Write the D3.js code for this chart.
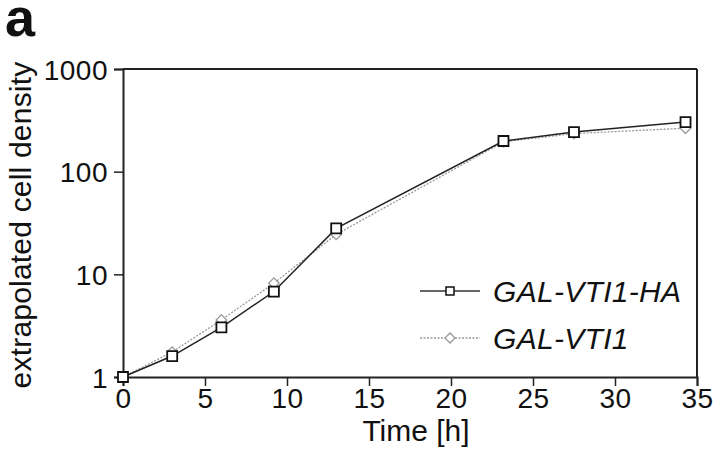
<!DOCTYPE html>
<html><head><meta charset="utf-8">
<script src="https://cdn.jsdelivr.net/npm/d3@7"></script>
<style>
html,body{margin:0;padding:0;background:#fff;}
text{font-family:"Liberation Sans",Arial,Helvetica,sans-serif;}
</style></head>
<body><svg id="c" width="720" height="454"></svg>
<script>
const times = [0, 3, 6, 9.2, 13, 23.2, 27.5, 34.3];
const haValues = [1, 1.6, 3.05, 6.8, 28, 199, 243, 304];
const vti1Values = [1, 1.75, 3.6, 8.2, 24.5, 195, 235, 265];
const seriesNames = ["GAL-VTI1-HA", "GAL-VTI1"];
const xTicks = [0, 5, 10, 15, 20, 25, 30, 35];
const yTicks = [1, 10, 100, 1000];

(function () {
const svg = d3.select("#c");
const mL = 123, mR = 697, mT = 69, mB = 377;
const x = d3.scaleLinear().domain([0, 35]).range([mL, mR]);
const y = d3.scaleLog().domain([1, 1000]).range([mB, mT]);

// frame: top and right borders
svg.append("line").attr("x1", mL).attr("x2", mR).attr("y1", mT).attr("y2", mT)
  .attr("stroke", "#222").attr("stroke-width", 2);
svg.append("line").attr("x1", mR).attr("x2", mR).attr("y1", mT).attr("y2", mB)
  .attr("stroke", "#222").attr("stroke-width", 2);

const xAxis = svg.append("g").attr("transform", `translate(0,${mB})`)
  .call(d3.axisBottom(x).tickValues(xTicks).tickSize(9).tickPadding(2).tickFormat(d3.format("d")));
const yAxis = svg.append("g").attr("transform", `translate(${mL},0)`)
  .call(d3.axisLeft(y).tickValues(yTicks).tickSize(9).tickPadding(6).tickFormat(d3.format("d")));
[xAxis, yAxis].forEach(g => {
  g.select(".domain").attr("stroke", "#222").attr("stroke-width", 2);
  g.selectAll(".tick line").attr("stroke", "#222").attr("stroke-width", 1.5);
  g.selectAll(".tick text").attr("fill", "#111").style("font-size", "28px")
    .style("letter-spacing", "0.5px")
    .style("font-family", '"Liberation Sans", Arial, sans-serif');
});
xAxis.selectAll(".tick text").attr("dy", "0.71em");
yAxis.selectAll(".tick text").attr("dy", "0.36em");

// axis titles
svg.append("text").attr("x", 416).attr("y", 441).attr("text-anchor", "middle")
  .style("font-size", "30px").attr("fill", "#111").text("Time [h]");
svg.append("text").attr("transform", "translate(31,225) rotate(-90)")
  .attr("text-anchor", "middle").style("font-size", "30px").style("letter-spacing", "0.2px")
  .attr("fill", "#111").text("extrapolated cell density");

// panel letter
svg.append("text").attr("x", 5).attr("y", 36).style("font-size", "54px").style("font-weight", "bold")
  .attr("fill", "#111").text("a");

const line = d3.line().x((d, i) => x(times[i])).y(d => y(d));

// VTI1 series (grey dotted, diamonds)
svg.append("path").datum(vti1Values).attr("d", line).attr("fill", "none")
  .attr("stroke", "#999").attr("stroke-width", 1.3).attr("stroke-dasharray", "2,1.5");
const diamond = d3.symbol().type(d3.symbolSquare).size(55);
svg.append("g").selectAll("path").data(vti1Values).join("path")
  .attr("d", diamond)
  .attr("transform", (d, i) => `translate(${x(times[i])},${y(d)}) rotate(45)`)
  .attr("fill", "#fff").attr("stroke", "#999").attr("stroke-width", 1.3);

// HA series (black solid, squares)
svg.append("path").datum(haValues).attr("d", line).attr("fill", "none")
  .attr("stroke", "#222").attr("stroke-width", 1.5);
const sq = d3.symbol().type(d3.symbolSquare).size(100);
svg.append("g").selectAll("path").data(haValues).join("path")
  .attr("d", sq)
  .attr("transform", (d, i) => `translate(${x(times[i])},${y(d)})`)
  .attr("fill", "#fff").attr("stroke", "#111").attr("stroke-width", 1.8);

// legend
const lg = svg.append("g");
const rows = [
  {name: seriesNames[0], y: 291, stroke: "#333", dash: null, sym: "sq"},
  {name: seriesNames[1], y: 338, stroke: "#999", dash: "2,1.5", sym: "di"}
];
rows.forEach(r => {
  lg.append("line").attr("x1", 420).attr("x2", 480).attr("y1", r.y).attr("y2", r.y)
    .attr("stroke", r.stroke).attr("stroke-width", r.sym === "sq" ? 1.5 : 1.3)
    .attr("stroke-dasharray", r.dash);
  if (r.sym === "sq") {
    lg.append("path").attr("d", d3.symbol().type(d3.symbolSquare).size(64))
      .attr("transform", `translate(450,${r.y})`).attr("fill", "#fff").attr("stroke", "#111").attr("stroke-width", 1.5);
  } else {
    lg.append("path").attr("d", d3.symbol().type(d3.symbolSquare).size(50))
      .attr("transform", `translate(450,${r.y}) rotate(45)`).attr("fill", "#fff").attr("stroke", "#999").attr("stroke-width", 1.3);
  }
  lg.append("text").attr("x", 493).attr("y", r.y + 11).style("font-size", "30px")
    .style("font-style", "italic").style("letter-spacing", "0.3px").attr("fill", "#111").text(r.name);
});
})();
</script></body></html>
